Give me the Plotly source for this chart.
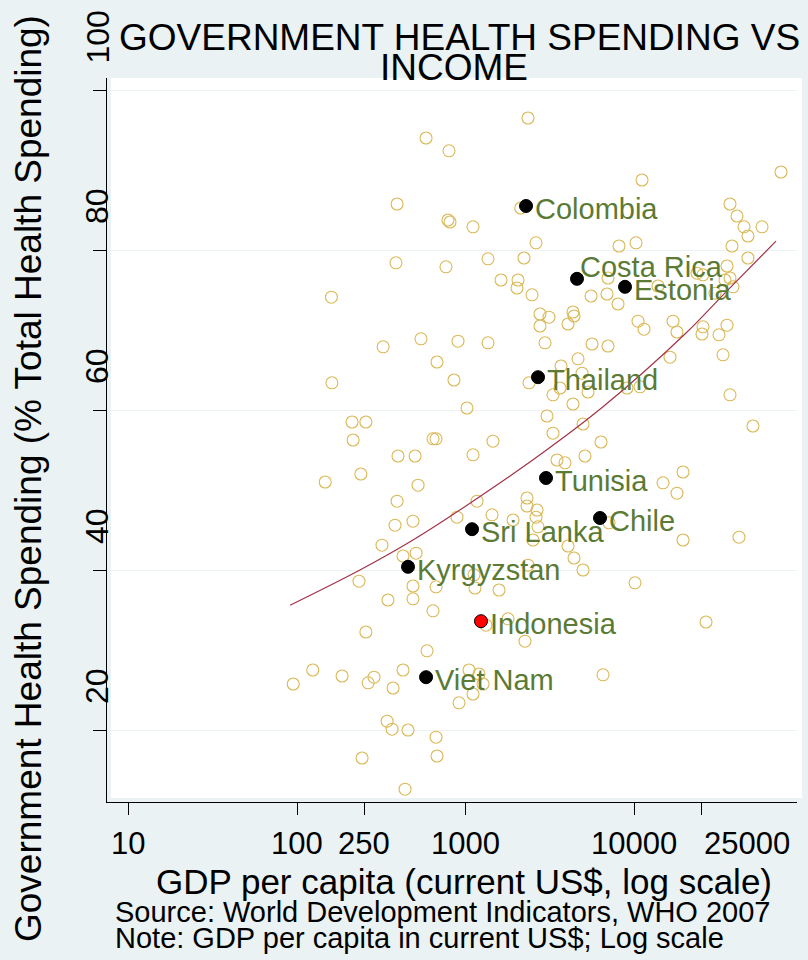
import math
import plotly.graph_objects as go

# ---------------- data ----------------
gdp_all = [2340, 582, 796, 73960, 11094, 392, 785, 807, 1105, 2120,
           36870, 40567, 44638, 47098, 57074, 37892, 47098, 2611, 8104, 10221,
           386, 764, 1356, 2216, 1619, 2042, 2014, 2472, 6975, 35400,
           23496, 25502, 34438, 36870, 38411, 30049, 13800, 5533, 6880, 7995,
           2756, 3117, 2756, 4325, 4385, 4041, 10505, 11402, 16934, 17883,
           25502, 25157, 35400, 31732, 160, 543, 324, 676, 900, 1356,
           2953, 5609, 6975, 33510, 16255, 4631, 3673, 4893, 852, 161,
           2373, 3292, 3622, 5309, 9040, 10794, 4325, 1018, 36870, 3034,
           4960, 50437, 212, 256, 3292, 215, 640, 667, 1451, 6339,
           397, 501, 1105, 5095, 3477, 3878, 239, 147, 522, 19415,
           14776, 17883, 392, 1167, 2309, 2309, 2646, 2611, 2683, 2506,
           888, 1432, 1908, 487, 381, 7070, 19415, 41687, 4041, 4385,
           4960, 319, 425, 508, 2340, 1120, 233, 487, 667, 1135,
           1576, 10083, 346, 487, 640, 1319, 1781, 26574, 256, 2246,
           590, 124, 185, 95, 286, 264, 425, 371, 1046, 1199,
           1267, 1105, 913, 6515, 342, 366, 455, 667, 676, 243, 437]
gov_all = [96.5, 94.0, 92.4, 89.75, 88.75, 85.75, 83.75, 83.5, 82.9, 85.25,
           85.75, 84.25, 82.9, 81.75, 82.9, 80.5, 79.0, 80.9, 80.5, 80.9,
           78.4, 77.9, 78.9, 79.0, 76.25, 76.25, 75.25, 74.4, 76.5, 78.0,
           77.1, 76.9, 76.25, 76.5, 75.4, 74.6, 75.5, 74.25, 74.5, 73.25,
           72.0, 71.6, 70.5, 72.25, 71.75, 70.75, 71.1, 70.1, 71.1, 69.75,
           70.4, 69.5, 70.6, 69.4, 74.1, 68.9, 67.9, 66.0, 68.6, 68.4,
           68.4, 68.25, 68.0, 66.9, 66.6, 66.4, 65.5, 64.6, 63.75, 63.4,
           63.4, 61.9, 62.75, 62.25, 62.75, 62.9, 60.75, 60.25, 61.9, 59.25,
           58.25, 58.0, 58.5, 58.5, 57.1, 56.25, 56.4, 56.4, 56.1, 56.0,
           54.25, 54.25, 54.4, 54.25, 53.75, 53.4, 52.0, 51.0, 50.6, 52.25,
           50.9, 49.6, 48.6, 48.6, 49.0, 48.0, 47.5, 46.6, 45.4, 43.75,
           46.6, 46.9, 46.25, 46.1, 45.6, 45.9, 43.75, 44.1, 43.0, 41.5,
           40.0, 43.1, 41.75, 42.1, 40.6, 39.4, 38.6, 38.0, 37.9, 37.75,
           37.5, 38.4, 36.25, 36.4, 34.9, 33.1, 33.9, 33.5, 32.25, 31.1,
           29.9, 27.5, 26.75, 25.75, 26.6, 25.9, 27.5, 25.25, 27.5, 27.0,
           25.75, 24.5, 23.4, 26.9, 21.1, 20.1, 20.0, 19.1, 16.75, 16.5, 12.6]

countries = ["Colombia", "Costa Rica", "Estonia", "Thailand", "Tunisia",
             "Chile", "Sri Lanka", "Kyrgyzstan", "Indonesia", "Viet Nam"]
country_gdp = [2278, 4568, 8798, 2683, 2992, 6254, 1090, 455, 1232, 582]
country_gov = [85.5, 76.4, 75.4, 64.1, 51.5, 46.5, 45.1, 40.4, 33.6, 26.6]

fit_gdp = [91, 236, 487, 1018, 2756, 6515, 19950, 35400, 69070]
fit_gov = [35.6, 40.0, 43.75, 48.1, 54.4, 60.4, 69.5, 74.9, 81.1]

x_ticks = [10, 100, 250, 1000, 10000, 25000]
x_ticklabels = ["10", "100", "250", "1000", "10000", "25000"]
y_ticks = [20, 40, 60, 80, 100]
y_ticklabels = ["20", "40", "60", "80", "100"]

title_lines = ["GOVERNMENT HEALTH SPENDING VS", "INCOME"]
x_title = "GDP per capita (current US$, log scale)"
y_title = "Government Health Spending (% Total Health Spending)"
notes = ["Source: World Development Indicators, WHO 2007",
         "Note: GDP per capita in current US$; Log scale"]

# ---------------- styling ----------------
W, H = 808, 960
L_PX, R_PX, T_PX, B_PX = 107, 797, 78, 802
FONT = "Liberation Sans, Arial, Helvetica, sans-serif"
BG = "#EAF2F3"
HOLLOW = "#DBB856"
LABEL_GREEN = "#5B7A34"
FIT_COLOR = "#A33348"


def px_x(px):
    return (px - L_PX) / (R_PX - L_PX)


def px_y(py):
    return (B_PX - py) / (B_PX - T_PX)


fig = go.Figure()

fig.add_trace(go.Scatter(
    x=gdp_all, y=gov_all, mode="markers",
    marker=dict(symbol="circle-open", size=12,
                line=dict(color=HOLLOW, width=1.1), color=HOLLOW),
    hoverinfo="skip", showlegend=False))

fig.add_trace(go.Scatter(
    x=fit_gdp, y=fit_gov, mode="lines",
    line=dict(color=FIT_COLOR, width=1.2, shape="spline"),
    hoverinfo="skip", showlegend=False))

marker_colors = ["red" if c == "Indonesia" else "black" for c in countries]
fig.add_trace(go.Scatter(
    x=country_gdp, y=country_gov, mode="markers",
    marker=dict(symbol="circle", size=13, color=marker_colors,
                line=dict(color="black", width=1)),
    hoverinfo="skip", showlegend=False))

annotations = []
label_offsets = {"Costa Rica": (1, 12)}
for c, g, v in zip(countries, country_gdp, country_gov):
    dx, dy = label_offsets.get(c, (7, -3))
    annotations.append(dict(
        x=math.log10(g), y=v, xref="x", yref="y", text=c, showarrow=False,
        xanchor="left", yanchor="middle", xshift=dx, yshift=dy,
        font=dict(family=FONT, size=29, color=LABEL_GREEN)))

# y tick labels (rotated, sitting above their ticks)
for v, t in zip(y_ticks, y_ticklabels):
    annotations.append(dict(
        x=px_x(97), y=v, xref="paper", yref="y", text=t, showarrow=False,
        textangle=-90, xanchor="center", yanchor="bottom", yshift=24,
        font=dict(family=FONT, size=32, color="black")))

# x tick labels
for v, t in zip(x_ticks, x_ticklabels):
    anchor = "left" if v == 25000 else "center"
    annotations.append(dict(
        x=math.log10(v), y=px_y(843), xref="x", yref="paper", text=t,
        showarrow=False, xanchor=anchor, yanchor="middle",
        font=dict(family=FONT, size=31, color="black")))

# titles
annotations.append(dict(x=px_x(459), y=px_y(37), xref="paper", yref="paper",
                        text=title_lines[0], showarrow=False, xanchor="center",
                        yanchor="middle", font=dict(family=FONT, size=37, color="black")))
annotations.append(dict(x=px_x(454), y=px_y(67), xref="paper", yref="paper",
                        text=title_lines[1], showarrow=False, xanchor="center",
                        yanchor="middle", font=dict(family=FONT, size=37, color="black")))
annotations.append(dict(x=px_x(464), y=px_y(881), xref="paper", yref="paper",
                        text=x_title, showarrow=False, xanchor="center",
                        yanchor="middle", font=dict(family=FONT, size=35, color="black")))
annotations.append(dict(x=px_x(28), y=px_y(479), xref="paper", yref="paper",
                        text=y_title, showarrow=False, textangle=-90,
                        xanchor="center", yanchor="middle",
                        font=dict(family=FONT, size=37, color="black")))
for line, cy in zip(notes, [912, 938]):
    annotations.append(dict(x=px_x(113), y=px_y(cy), xref="paper", yref="paper",
                            text=line, showarrow=False, xanchor="left",
                            yanchor="middle",
                            font=dict(family=FONT, size=29, color="black")))

shapes = [dict(type="rect", xref="paper", yref="paper", layer="below",
               x0=px_x(111), x1=px_x(802), y0=px_y(798), y1=px_y(78),
               fillcolor="white", line=dict(width=0))]

fig.update_layout(
    width=W, height=H,
    margin=dict(l=L_PX, r=W - R_PX, t=T_PX, b=H - B_PX, pad=0),
    paper_bgcolor=BG, plot_bgcolor=BG,
    showlegend=False,
    annotations=annotations, shapes=shapes,
    font=dict(family=FONT, color="black"),
)
fig.update_xaxes(
    type="log", range=[0.8737, 4.9638],
    tickvals=x_ticks, showticklabels=False,
    ticks="outside", ticklen=12, tickwidth=1, tickcolor="black",
    showgrid=False, zeroline=False,
    showline=True, linecolor="black", linewidth=1)
fig.update_yaxes(
    range=[11.0, 101.5],
    tickvals=y_ticks, showticklabels=False,
    ticks="outside", ticklen=13, tickwidth=1, tickcolor="black",
    showgrid=True, gridcolor=BG, gridwidth=1, zeroline=False,
    showline=True, linecolor="black", linewidth=1)

fig.write_html(
    "out.html",
    config={"displayModeBar": False},
    post_script="document.body.style.margin='0';document.body.style.overflow='hidden';")
